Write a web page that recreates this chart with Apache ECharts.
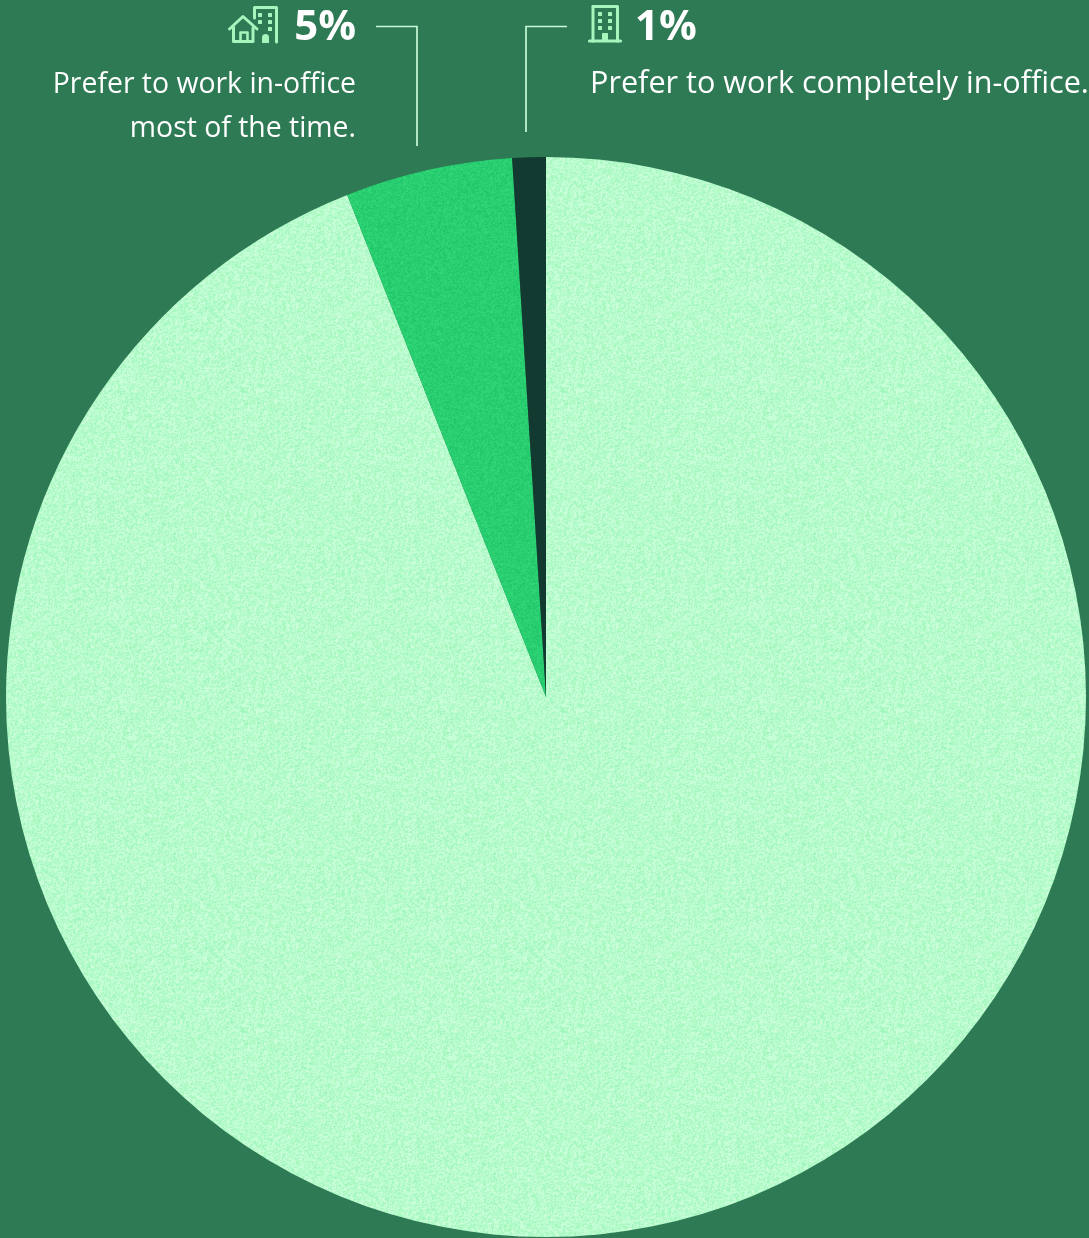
<!DOCTYPE html>
<html>
<head>
<meta charset="utf-8">
<style>
  html, body { margin: 0; padding: 0; background: #2e7a54; overflow: hidden; }
  #chart { width: 1089px; height: 1238px; }
</style>
<script src="https://cdn.jsdelivr.net/npm/echarts@6/dist/echarts.min.js"></script>
</head>
<body>
<div id="chart"></div>
<script>
// Survey shares, drawn clockwise from twelve o'clock
const categories = ['Prefer hybrid or remote work', 'Prefer to work in-office most of the time', 'Prefer to work completely in-office'];
const shares = [94, 5, 1];

const leftFigure = '5%';
const leftCaption = ['Prefer to work in-office', 'most of the time.'];
const rightFigure = '1%';
const rightCaption = 'Prefer to work completely in-office.';

const FONT = '"Open Sans", sans-serif';
const BG = '#2e7a54';
const ICON = '#a6f5bd';
const RULE = '#c8fad6';

// Fine speckled fill for the slices, repeated as a canvas pattern
function grain(base, speck, seed) {
  const size = 320;
  let s = seed >>> 0;
  const next = () => {
    s = (s + 0x6d2b79f5) >>> 0;
    let t = Math.imul(s ^ (s >>> 15), 1 | s);
    t = (t + Math.imul(t ^ (t >>> 7), 61 | t)) ^ t;
    return ((t ^ (t >>> 14)) >>> 0) / 4294967296;
  };
  const raw = new Float32Array(size * size);
  for (let i = 0; i < raw.length; i++) raw[i] = next();
  const c = document.createElement('canvas');
  c.width = c.height = size;
  const g = c.getContext('2d');
  const img = g.createImageData(size, size);
  for (let y = 0; y < size; y++) {
    for (let x = 0; x < size; x++) {
      // A little neighbour averaging clumps the specks together
      const v = (2 * raw[y * size + x] + raw[y * size + (x + 1) % size] + raw[((y + 1) % size) * size + x]) / 4;
      const a = Math.max(0, Math.min(1, (v - 0.2) / 0.6));
      const i = (y * size + x) * 4;
      for (let k = 0; k < 3; k++) img.data[i + k] = base[k] + (speck[k] - base[k]) * a;
      img.data[i + 3] = 255;
    }
  }
  g.putImageData(img, 0, 0);
  return { image: c, repeat: 'repeat' };
}

const sliceFills = [
  grain([205, 255, 220], [162, 247, 188], 11),
  grain([48, 214, 120], [34, 198, 106], 23),
  '#123a30'
];

const sliceData = categories.map((name, i) => ({
  name,
  value: shares[i],
  itemStyle: { color: sliceFills[i] }
}));

const txt = (x, y, text, size, weight, align) => ({
  type: 'text',
  x, y,
  silent: true,
  style: { text, fill: '#ffffff', font: `${weight} ${size}px ${FONT}`, textAlign: align, textVerticalAlign: 'middle' }
});

const rule = (points) => ({
  type: 'polyline',
  silent: true,
  shape: { points },
  style: { stroke: RULE, lineWidth: 1.7, fill: 'none' }
});

const box = (x, y, w, h, r) => ({
  type: 'rect', silent: true, shape: { x, y, width: w, height: h, r: r || 0.6 }, style: { fill: ICON }
});

const stroke = (points, lineWidth) => ({
  type: 'polyline', silent: true, shape: { points },
  style: { stroke: ICON, lineWidth, fill: 'none', lineJoin: 'round', lineCap: 'round' }
});

// House with a tower behind it
const houseIcon = [
  stroke([[254.5, 18], [254.5, 7.5], [276.5, 7.5], [276.5, 42]], 3),
  box(258, 13, 4, 4), box(268, 13, 4, 4),
  box(258, 20, 4, 4), box(268, 20, 4, 4),
  box(268, 27, 4, 4),
  box(262, 34, 7, 9, [3.5, 3.5, 0.5, 0.5]),
  stroke([[229.5, 29], [243, 16.5], [257, 29]], 3),
  stroke([[233.5, 27], [233.5, 41.5], [253, 41.5], [253, 28]], 3),
  stroke([[240.5, 41.5], [240.5, 32.5], [247.5, 32.5], [247.5, 41.5]], 2.6)
];

// Office block
const officeIcon = [
  stroke([[593, 6.5], [617.5, 6.5], [617.5, 41]], 3),
  stroke([[593, 6.5], [593, 41]], 3),
  stroke([[589.5, 41], [620.5, 41]], 3.2),
  box(598, 12, 4, 4), box(608, 12, 4, 4),
  box(598, 19, 4, 4), box(608, 19, 4, 4),
  box(598, 26, 4, 4), box(608, 26, 4, 4),
  box(602, 33, 6, 8)
];

const chart = echarts.init(document.getElementById('chart'), null, { renderer: 'canvas' });
chart.setOption({
  animation: false,
  backgroundColor: BG,
  series: [{
    type: 'pie',
    center: [546, 697],
    radius: [0, 540],
    startAngle: 90,
    clockwise: true,
    silent: true,
    label: { show: false },
    labelLine: { show: false },
    data: sliceData
  }],
  graphic: {
    elements: [
      rule([[376, 26.5], [417, 26.5], [417, 146]]),
      rule([[567, 26.5], [526, 26.5], [526, 132]]),
      ...houseIcon,
      ...officeIcon,
      txt(356, 28, leftFigure, 42, 700, 'right'),
      txt(356, 85, leftCaption[0], 28.4, 400, 'right'),
      txt(356, 129, leftCaption[1], 28.4, 400, 'right'),
      txt(635, 28, rightFigure, 42, 700, 'left'),
      txt(590, 84, rightCaption, 30.6, 400, 'left')
    ]
  }
});
</script>
</body>
</html>
